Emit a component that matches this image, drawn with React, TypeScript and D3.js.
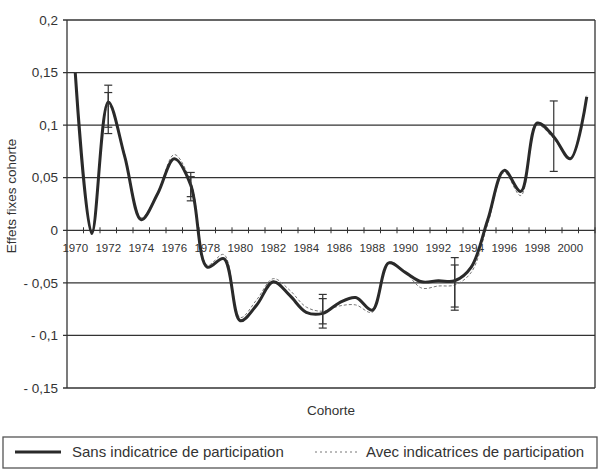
import React from "react";
import * as d3 from "d3";

const years = [1970, 1971, 1972, 1973, 1974, 1975, 1976, 1977, 1978, 1979, 1980, 1981, 1982, 1983, 1984, 1985, 1986, 1987, 1988, 1989, 1990, 1991, 1992, 1993, 1994, 1995, 1996, 1997, 1998, 1999, 2000, 2001];
const sans = [0.150, -0.003, 0.122, 0.070, 0.010, 0.035, 0.068, 0.043, -0.035, -0.027, -0.086, -0.071, -0.049, -0.062, -0.078, -0.079, -0.069, -0.064, -0.076, -0.031, -0.040, -0.049, -0.048, -0.048, -0.035, 0.010, 0.057, 0.037, 0.102, 0.089, 0.068, 0.127];
const avec = [0.150, -0.001, 0.119, 0.072, 0.012, 0.036, 0.072, 0.046, -0.033, -0.023, -0.083, -0.066, -0.046, -0.057, -0.073, -0.077, -0.072, -0.071, -0.078, -0.030, -0.040, -0.055, -0.053, -0.052, -0.040, 0.006, 0.055, 0.033, 0.100, 0.087, 0.068, 0.128];
const errYears = [1972, 1972, 1977, 1977, 1985, 1985, 1993, 1993, 1999];
const errHigh = [0.138, 0.131, 0.055, 0.051, -0.061, -0.065, -0.026, -0.033, 0.123];
const errLow = [0.092, 0.098, 0.028, 0.032, -0.093, -0.089, -0.076, -0.073, 0.056];
const yTicks = [0.2, 0.15, 0.1, 0.05, 0, -0.05, -0.1, -0.15];
const yTickLabels = ["0,2", "0,15", "0,1", "0,05", "0", "- 0,05", "- 0,1", "- 0,15"];
const xLabelYears = [1970, 1972, 1974, 1976, 1978, 1980, 1982, 1984, 1986, 1988, 1990, 1992, 1994, 1996, 1998, 2000];
const seriesNames = ["Sans indicatrice de participation", "Avec indicatrices de participation"];

const W = 600, H = 470;
const left = 67, right = 595, top = 20, bottom = 388;
const ink = "#333";
const font = "Liberation Sans, Arial, Helvetica, sans-serif";

export default function App() {
  const x = d3.scaleBand<number>().domain(years).range([left, right]).padding(0);
  const cx = (yr: number) => (x(yr) as number) + x.bandwidth() / 2;
  const y = d3.scaleLinear().domain([-0.15, 0.2]).range([bottom, top]);
  const line = d3.line<number>().x((_, i) => cx(years[i])).y((d) => y(d)).curve(d3.curveCatmullRom.alpha(0.5));
  const boundaries = years.map((yr) => (x(yr) as number) + x.bandwidth());
  const y0 = y(0);

  return (
    <svg width={W} height={H} style={{ position: "absolute", left: 0, top: 0, background: "#fff" }} fontFamily={font}>
      {yTicks.filter((t) => t !== 0).map((t) => (
        <line key={t} x1={left - 4} x2={right} y1={y(t)} y2={y(t)} stroke={ink} strokeWidth={1.3} />
      ))}
      <line x1={left} x2={left} y1={top} y2={bottom} stroke={ink} strokeWidth={1.3} />
      <line x1={right} x2={right} y1={top} y2={bottom} stroke={ink} strokeWidth={1.3} />
      <line x1={left - 4} x2={right} y1={y0} y2={y0} stroke={ink} strokeWidth={1.3} />
      {boundaries.map((b, i) => (
        <line key={i} x1={b} x2={b} y1={y0 - 3} y2={y0 + 3} stroke={ink} strokeWidth={1} />
      ))}
      {yTicks.map((t, i) => (
        <text key={t} x={58} y={y(t)} dy="0.35em" textAnchor="end" fontSize={13.5} fill={ink}>{yTickLabels[i]}</text>
      ))}
      {xLabelYears.map((yr) => (
        <text key={yr} x={cx(yr)} y={y0 + 22} textAnchor="middle" fontSize={11.5} fill={ink}>{yr}</text>
      ))}
      <path d={line(avec) || ""} fill="none" stroke="#777" strokeWidth={1} strokeDasharray="3,2" />
      <path d={line(sans) || ""} fill="none" stroke="#2a2a2a" strokeWidth={3} />
      {errYears.map((yr, i) => (
        <g key={i} stroke="#333" strokeWidth={1.2}>
          <line x1={cx(yr)} x2={cx(yr)} y1={y(errHigh[i])} y2={y(errLow[i])} />
          <line x1={cx(yr) - 4} x2={cx(yr) + 4} y1={y(errHigh[i])} y2={y(errHigh[i])} />
          <line x1={cx(yr) - 4} x2={cx(yr) + 4} y1={y(errLow[i])} y2={y(errLow[i])} />
        </g>
      ))}
      <text x={(left + right) / 2} y={415} textAnchor="middle" fontSize={13.5} fill={ink}>Cohorte</text>
      <text transform={`translate(16, 196) rotate(-90)`} textAnchor="middle" fontSize={13.5} fill={ink}>Effets fixes cohorte</text>
      <rect x={3} y={437} width={594} height={31} fill="#fff" stroke="#555" strokeWidth={1.3} />
      <line x1={15} x2={61} y1={452} y2={452} stroke="#2a2a2a" strokeWidth={3} />
      <text x={72} y={457} fontSize={15} fill={ink}>{seriesNames[0]}</text>
      <line x1={315} x2={360} y1={452} y2={452} stroke="#777" strokeWidth={1} strokeDasharray="2,3" />
      <text x={366} y={457} fontSize={15} fill={ink}>{seriesNames[1]}</text>
    </svg>
  );
}
